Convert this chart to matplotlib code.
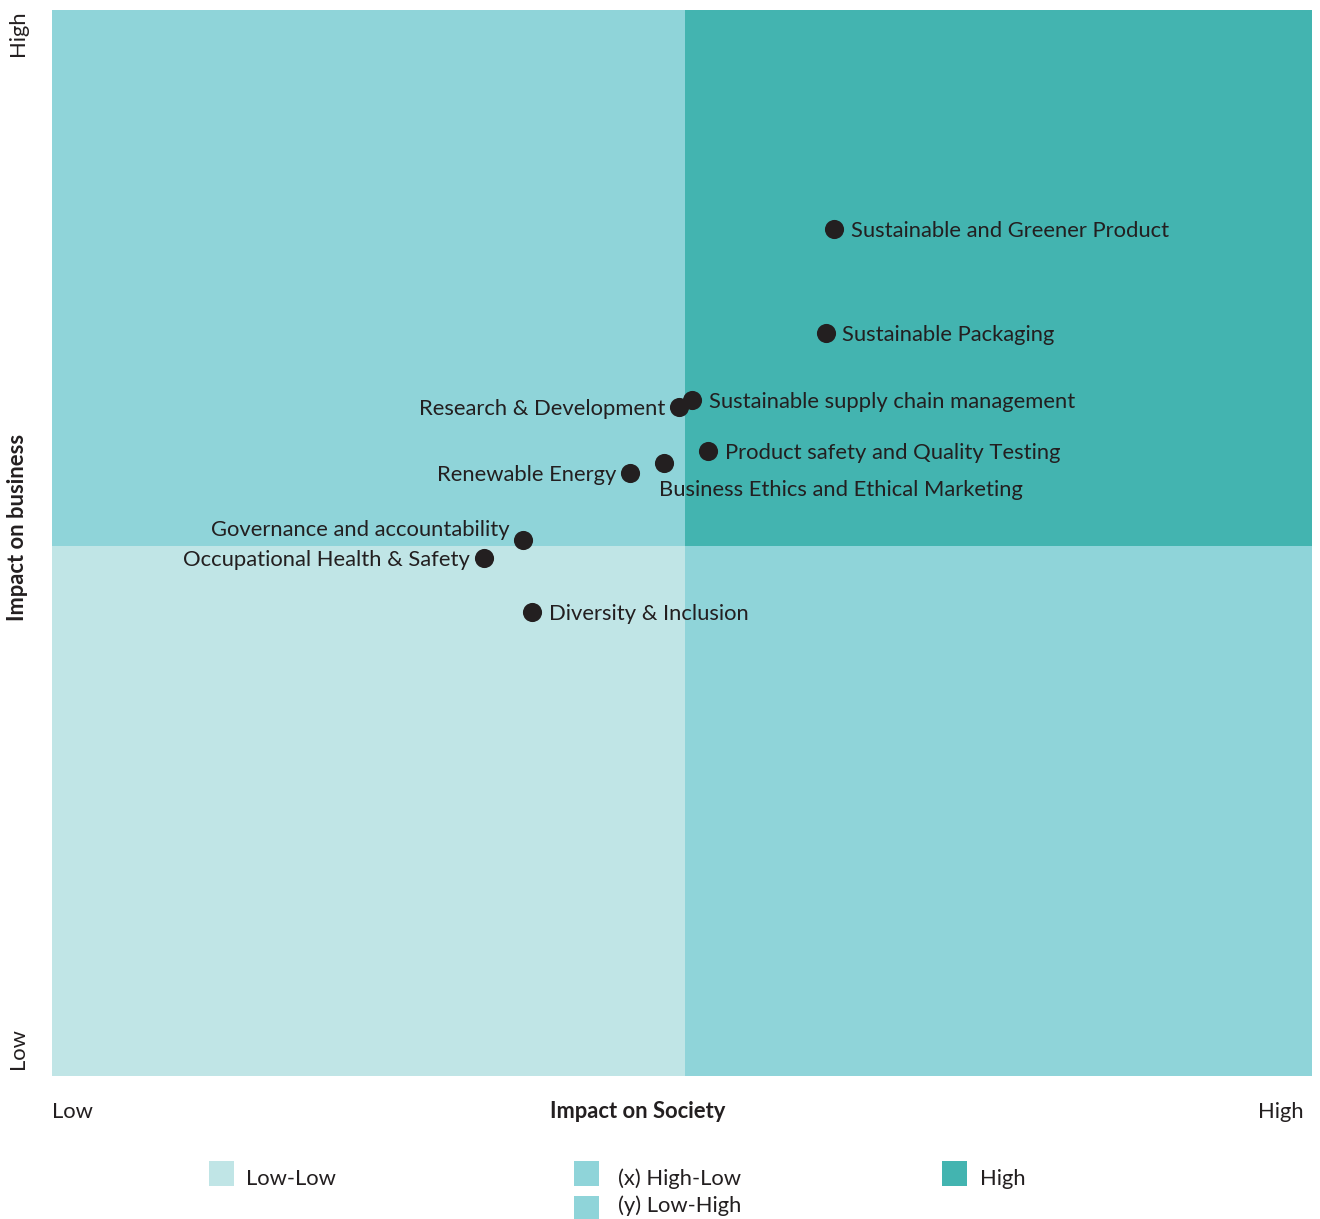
import matplotlib
matplotlib.use("Agg")
import matplotlib.pyplot as plt
from matplotlib.patches import Rectangle

plt.rcParams['font.family'] = ['Lato', 'DejaVu Sans']

# topics: (impact on society, impact on business)
topics = ["Sustainable and Greener Product", "Sustainable Packaging",
          "Sustainable supply chain management", "Research & Development",
          "Product safety and Quality Testing", "Business Ethics and Ethical Marketing",
          "Renewable Energy", "Governance and accountability",
          "Occupational Health & Safety", "Diversity & Inclusion"]
society = [6.21, 6.14, 5.08, 4.98, 5.21, 4.86, 4.59, 3.74, 3.43, 3.81]
business = [7.95, 6.97, 6.34, 6.28, 5.86, 5.75, 5.66, 5.03, 4.86, 4.35]
# where the label sits relative to its dot
label_side = ["right", "right", "right", "left", "right", "below",
              "left", "above-left", "left", "right"]

split_x, split_y = 5.02, 4.97
low_low, mid, high = "#c0e5e6", "#8fd4d9", "#43b4b0"
legend_names = ["Low-Low", "(x) High-Low", "(y) Low-High", "High"]

fig = plt.figure(figsize=(13.2, 12.19), dpi=100)
ax = fig.add_axes([52/1320, 1 - 1076/1219, 1260/1320, 1066/1219])
ax.set_xlim(0, 10)
ax.set_ylim(0, 10)

ax.add_patch(Rectangle((0, 0), split_x, split_y, color=low_low, lw=0))
ax.add_patch(Rectangle((split_x, 0), 10 - split_x, split_y, color=mid, lw=0))
ax.add_patch(Rectangle((0, split_y), split_x, 10 - split_y, color=mid, lw=0))
ax.add_patch(Rectangle((split_x, split_y), 10 - split_x, 10 - split_y, color=high, lw=0))

ax.scatter(society, business, s=190, color="#231f20", zorder=3, lw=0)

fs = 15.8
for name, x, y, side in zip(topics, society, business, label_side):
    if side == "right":
        ax.annotate(name, (x, y), xytext=(12, -1.5), textcoords="offset points",
                    ha="left", va="center", fontsize=fs, color="#231f20")
    elif side == "left":
        ax.annotate(name, (x, y), xytext=(-10, -1.5), textcoords="offset points",
                    ha="right", va="center", fontsize=fs, color="#231f20")
    elif side == "above-left":
        ax.annotate(name, (x, y), xytext=(-10, 7), textcoords="offset points",
                    ha="right", va="center", fontsize=fs, color="#231f20")
    else:
        ax.annotate(name, (x, y), xytext=(-4, -19.5), textcoords="offset points",
                    ha="left", va="center", fontsize=fs, color="#231f20")

ax.set_xticks([])
ax.set_yticks([])
for sp in ax.spines.values():
    sp.set_visible(False)

# axis words
tc = "#231f20"
fig.text(52/1320, 1 - 1118/1219, "Low", ha="left", va="baseline", fontsize=fs, color=tc)
fig.text(1304/1320, 1 - 1118/1219, "High", ha="right", va="baseline", fontsize=fs, color=tc)
fig.text(638/1320, 1 - 1118/1219, "Impact on Society", ha="center", va="baseline",
         fontsize=fs, fontweight="bold", color=tc)
fig.text(18/1320, 1 - 10/1219, "High", ha="center", va="top", rotation=90, fontsize=fs, color=tc)
fig.text(18/1320, 1 - 1069/1219, "Low", ha="center", va="bottom", rotation=90, fontsize=fs, color=tc)
fig.text(18/1320, 1 - 527/1219, "Impact on business", ha="center", va="center",
         rotation=90, fontsize=fs, fontweight="bold", color=tc)

# legend
legend_pos = [(209, 1161), (574, 1161), (574, 1196), (942, 1161)]
legend_cols = [low_low, mid, mid, high]
text_x = [246, 618, 618, 980]
text_base = [1185, 1185, 1212, 1185]
for name, (px, py), c, tx, tb in zip(legend_names, legend_pos, legend_cols, text_x, text_base):
    fig.add_artist(Rectangle((px/1320, 1 - (py + 25)/1219), 25/1320, 25/1219,
                             color=c, lw=0, transform=fig.transFigure))
    fig.text(tx/1320, 1 - tb/1219, name, ha="left", va="baseline",
             fontsize=fs, color=tc)

fig.savefig("out.png", dpi=100)
